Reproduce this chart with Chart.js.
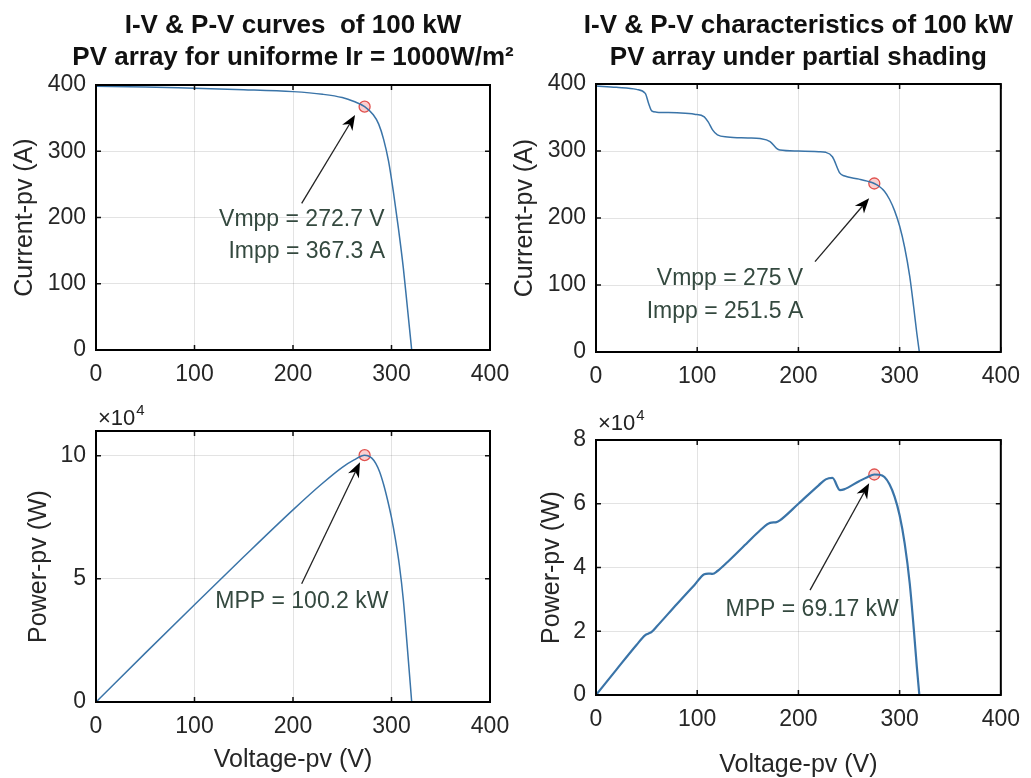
<!DOCTYPE html>
<html>
<head>
<meta charset="utf-8">
<script src="https://cdn.jsdelivr.net/npm/chart.js@4.4.1/dist/chart.umd.min.js"></script>
<style>
  body { margin: 0; background: #fff; }
  #fig { position: relative; width: 1031px; height: 778px; overflow: hidden; }
  .pane { position: absolute; }
</style>
</head>
<body>
<div id="fig">
  <div class="pane" style="left:0;top:0;width:530px;height:395px"><canvas id="ivUniform"></canvas></div>
  <div class="pane" style="left:505px;top:0;width:526px;height:395px"><canvas id="ivShaded"></canvas></div>
  <div class="pane" style="left:0;top:395px;width:530px;height:383px"><canvas id="pvUniform"></canvas></div>
  <div class="pane" style="left:505px;top:395px;width:526px;height:383px"><canvas id="pvShaded"></canvas></div>
</div>
<script>
// axis ticks
const voltTicks = [0, 100, 200, 300, 400];
const currTicks = [0, 100, 200, 300, 400];
const powerTicksUniform = [0, 50000, 100000];
const powerTicksShaded = [0, 20000, 40000, 60000, 80000];

// uniform irradiance 1000 W/m2
const voltUniformIV = [0, 50, 100, 150, 200, 230, 250, 262, 272.7, 281.5, 287, 292, 297, 302, 307, 312, 316, 320.5];
const currUniform = [398, 397, 395, 393, 390, 386, 381, 375, 367.3, 355, 341, 318, 285, 238, 184, 124, 66, 0];
const voltUniformPV = [0, 50, 100, 150, 200, 230, 250, 262, 272.7, 276, 280, 284, 288, 292, 296, 300, 304, 308, 312, 316, 320.5];
const powerUniform = [0, 19850, 39500, 58950, 78000, 88780, 95250, 98250, 100200, 99950, 99000, 96900, 93400, 88300, 82000, 74800, 66000, 55500, 41500, 22500, 0];

// partial shading
const voltShaded = [0, 20, 40, 48.7, 52, 55, 60, 80, 97.3, 107, 111, 115, 120, 130, 150, 162, 172, 178.4, 181.7, 200,
  220, 227, 233.6, 241, 245, 260, 268, 275, 280, 285, 290, 295, 300, 305, 310, 314, 317, 319.5];
const currShaded = [397, 395, 392, 386, 371, 360, 358, 357, 355, 351, 343, 332, 324, 321, 319.5, 318.5, 314, 304, 301.5, 300,
  299, 298, 291.5, 267, 263, 258, 255, 251.5, 247, 240, 228, 211, 188, 156, 113, 66, 28, 0];
const powerShaded = [0, 7900, 15700, 18800, 19290, 19800, 21480, 28560, 34540, 37900, 38100, 38000, 38900, 41730, 47930, 51600, 54010, 54230, 54780, 60000,
  65780, 67650, 68100, 64300, 64500, 67080, 68340, 69170, 69100, 68400, 66120, 62245, 56400, 47580, 35030, 20720, 8876, 0];

// maximum power points
const mppVolt = [272.7, 275];
const mppCurr = [367.3, 251.5];
const mppPower = [100200, 69170];

const FONT = '"Liberation Sans", Arial, Helvetica, sans-serif';
const curveColor = '#3a74a8';
const noteColor = '#34493f';

const figurePlugin = {
  id: 'figure',
  afterDraw(chart, args, opts) {
    const { ctx, chartArea: a, scales: { x, y } } = chart;
    ctx.save();
    // inward tick marks on all four sides
    ctx.strokeStyle = '#111';
    ctx.lineWidth = 1.5;
    ctx.beginPath();
    x.ticks.forEach(t => {
      const px = x.getPixelForValue(t.value);
      ctx.moveTo(px, a.bottom); ctx.lineTo(px, a.bottom - 5);
      ctx.moveTo(px, a.top); ctx.lineTo(px, a.top + 5);
    });
    y.ticks.forEach(t => {
      const py = y.getPixelForValue(t.value);
      ctx.moveTo(a.left, py); ctx.lineTo(a.left + 5, py);
      ctx.moveTo(a.right, py); ctx.lineTo(a.right - 5, py);
    });
    ctx.stroke();
    // box
    ctx.lineWidth = 2;
    ctx.strokeStyle = '#000';
    ctx.strokeRect(a.left, a.top, a.right - a.left, a.bottom - a.top);

    ctx.textAlign = 'center';
    ctx.textBaseline = 'middle';
    // two-line title
    if (opts.title) {
      ctx.fillStyle = '#111';
      ctx.font = 'bold 26px ' + FONT;
      opts.title.forEach((s, k) => ctx.fillText(s, (a.left + a.right) / 2, a.top + opts.titleOffsets[k]));
    }
    // x10^4 exponent
    if (opts.exponent) {
      ctx.fillStyle = '#222';
      ctx.textAlign = 'left';
      ctx.textBaseline = 'alphabetic';
      ctx.font = '22px ' + FONT;
      const bx = a.left + 2, by = a.top + opts.exponent;
      ctx.fillText('\u00d710', bx, by);
      const w = ctx.measureText('\u00d710').width;
      ctx.font = '15px ' + FONT;
      ctx.fillText('4', bx + w + 1, by - 10);
    }
    // annotation text
    ctx.textAlign = 'center';
    ctx.textBaseline = 'middle';
    ctx.fillStyle = noteColor;
    ctx.font = '23px ' + FONT;
    (opts.notes || []).forEach(n => ctx.fillText(n.text, x.getPixelForValue(n.x), y.getPixelForValue(n.y)));
    // arrow
    if (opts.arrow) {
      const x0 = x.getPixelForValue(opts.arrow.from[0]), y0 = y.getPixelForValue(opts.arrow.from[1]);
      const x1 = x.getPixelForValue(opts.arrow.to[0]), y1 = y.getPixelForValue(opts.arrow.to[1]);
      const ang = Math.atan2(y1 - y0, x1 - x0);
      const len = 15, half = 6;
      ctx.strokeStyle = '#222';
      ctx.lineWidth = 1.3;
      ctx.beginPath();
      ctx.moveTo(x0, y0);
      ctx.lineTo(x1 - Math.cos(ang) * len * 0.7, y1 - Math.sin(ang) * len * 0.7);
      ctx.stroke();
      const bxp = x1 - Math.cos(ang) * len, byp = y1 - Math.sin(ang) * len;
      const nx = -Math.sin(ang), ny = Math.cos(ang);
      ctx.fillStyle = '#000';
      ctx.beginPath();
      ctx.moveTo(x1, y1);
      ctx.lineTo(bxp + nx * half, byp + ny * half);
      ctx.lineTo(x1 - Math.cos(ang) * len * 0.7, y1 - Math.sin(ang) * len * 0.7);
      ctx.lineTo(bxp - nx * half, byp - ny * half);
      ctx.closePath();
      ctx.fill();
    }
    ctx.restore();
  }
};

function buildPanel(id, cfg) {
  const tickFont = { family: FONT, size: 23 };
  const titleFont = { family: FONT, size: 25, lineHeight: 1.0 };
  return new Chart(document.getElementById(id), {
    type: 'scatter',
    data: {
      datasets: [
        {
          data: cfg.xs.map((v, i) => ({ x: v, y: cfg.ys[i] })),
          showLine: true,
          borderColor: curveColor,
          borderWidth: cfg.lineWidth,
          pointRadius: 0,
          cubicInterpolationMode: 'monotone',
          fill: false,
        },
        {
          data: [{ x: cfg.mpp[0], y: cfg.mpp[1] }],
          showLine: false,
          pointRadius: 5.5,
          borderColor: '#e0524f',
          backgroundColor: 'rgba(245,170,170,0.55)',
          borderWidth: 1.3,
        },
      ],
    },
    options: {
      responsive: true,
      maintainAspectRatio: false,
      animation: false,
      events: [],
      layout: { padding: cfg.pad },
      plugins: {
        legend: { display: false },
        tooltip: { enabled: false },
        figure: cfg.fig,
      },
      scales: {
        x: {
          type: 'linear',
          min: 0,
          max: 400,
          afterBuildTicks: s => { s.ticks = voltTicks.map(v => ({ value: v })); },
          afterFit: s => { s.height = cfg.xh; },
          grid: { color: 'rgba(0,0,0,0.11)', drawTicks: false },
          border: { display: false },
          ticks: { font: tickFont, color: '#262626', padding: 11, maxRotation: 0 },
          title: cfg.xTitle
            ? { display: true, text: cfg.xTitle, font: titleFont, color: '#262626', padding: { top: 0, bottom: cfg.xTitlePad } }
            : { display: false },
        },
        y: {
          type: 'linear',
          min: 0,
          max: cfg.yMax,
          afterBuildTicks: s => { s.ticks = cfg.yTicks.map(v => ({ value: v })); },
          afterFit: s => { s.width = cfg.yw; },
          grid: { color: 'rgba(0,0,0,0.11)', drawTicks: false },
          border: { display: false },
          ticks: {
            font: tickFont,
            color: '#262626',
            padding: 10,
            callback: v => cfg.yScale ? v / cfg.yScale : v,
          },
          title: { display: true, text: cfg.yTitle, font: titleFont, color: '#262626', padding: { top: cfg.yTitlePad, bottom: 0 } },
        },
      },
    },
    plugins: [figurePlugin],
  });
}

buildPanel('ivUniform', {
  xs: voltUniformIV, ys: currUniform, mpp: [mppVolt[0], mppCurr[0]], lineWidth: 1.5,
  yMax: 400, yTicks: currTicks, yTitle: 'Current-pv (A)', yTitlePad: 12.5,
  pad: { top: 85, right: 40, bottom: 0, left: 0 }, yw: 96, xh: 45,
  fig: {
    title: ['I-V & P-V curves  of 100 kW', 'PV array for uniforme Ir = 1000W/m\u00b2'],
    titleOffsets: [-59, -27],
    notes: [{ text: 'Vmpp = 272.7 V', x: 209, y: 196 }, { text: 'Impp = 367.3 A', x: 214, y: 148 }],
    arrow: { from: [208.8, 221.4], to: [263, 354.7] },
  },
});

buildPanel('ivShaded', {
  xs: voltShaded, ys: currShaded, mpp: [mppVolt[1], mppCurr[1]], lineWidth: 1.5,
  yMax: 400, yTicks: currTicks, yTitle: 'Current-pv (A)', yTitlePad: 7.5,
  pad: { top: 84, right: 24, bottom: 0, left: 0 }, yw: 91, xh: 43,
  fig: {
    title: ['I-V & P-V characteristics of 100 kW', 'PV array under partial shading'],
    titleOffsets: [-58, -26],
    notes: [{ text: 'Vmpp = 275 V', x: 132.4, y: 110 }, { text: 'Impp = 251.5 A', x: 127.5, y: 60 }],
    arrow: { from: [216.4, 134.8], to: [269.9, 229.4] },
  },
});

buildPanel('pvUniform', {
  xs: voltUniformPV, ys: powerUniform, mpp: [mppVolt[0], mppPower[0]], lineWidth: 1.5,
  yMax: 110000, yTicks: powerTicksUniform, yScale: 10000, yTitle: 'Power-pv (W)', yTitlePad: 26.5,
  xTitle: 'Voltage-pv (V)', xTitlePad: 5.5,
  pad: { top: 36, right: 40, bottom: 0, left: 0 }, yw: 96, xh: 76,
  fig: {
    exponent: -6,
    notes: [{ text: 'MPP = 100.2 kW', x: 209, y: 40600 }],
    arrow: { from: [208.8, 48000], to: [268, 97300] },
  },
});

buildPanel('pvShaded', {
  xs: voltShaded, ys: powerShaded, mpp: [mppVolt[1], mppPower[1]], lineWidth: 2.2,
  yMax: 80000, yTicks: powerTicksShaded, yScale: 10000, yTitle: 'Power-pv (W)', yTitlePad: 35,
  xTitle: 'Voltage-pv (V)', xTitlePad: 0,
  pad: { top: 45, right: 24, bottom: 0, left: 0 }, yw: 91, xh: 83,
  fig: {
    exponent: -10,
    notes: [{ text: 'MPP = 69.17 kW', x: 213.6, y: 26700 }],
    arrow: { from: [211.5, 32900], to: [269.9, 66400] },
  },
});
</script>
</body>
</html>
